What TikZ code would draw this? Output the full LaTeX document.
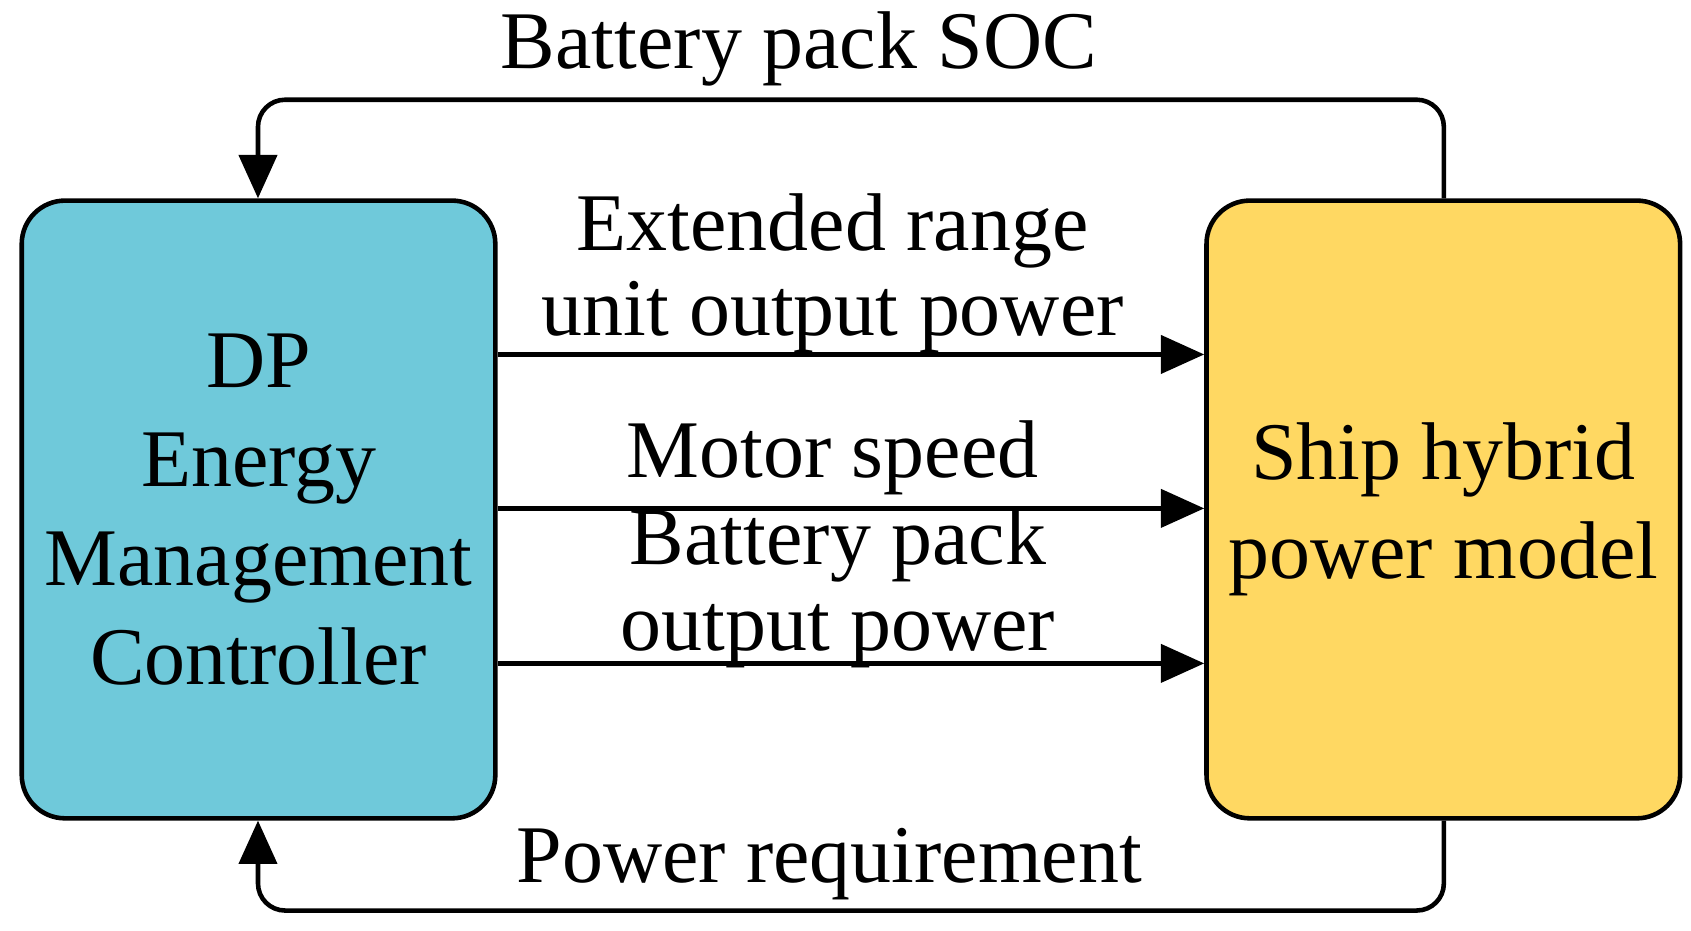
\documentclass[tikz,border=0pt]{standalone}
\usepackage{fontspec}
\setmainfont{Liberation Serif}
\usetikzlibrary{arrows.meta}
\definecolor{cbox}{HTML}{6FC9DA}
\definecolor{ybox}{HTML}{FFD862}
\begin{document}
\begin{tikzpicture}[x=0.02cm,y=-0.02cm,
  box/.style={draw,line width=2.4pt,rounded corners=0.8cm,minimum width=8.74cm,minimum height=11.4cm,align=center,font=\fontsize{43}{52}\selectfont},
  lbl/.style={align=center,font=\fontsize{43}{45}\selectfont,inner sep=0pt},
  con/.style={line width=2.4pt,-{Triangle[length=0.8cm,width=0.7cm]},rounded corners=0.5cm}]
\useasboundingbox (0,0) rectangle (1560,858);
\node[box,fill=cbox] (L) at (238.5,470) {DP\\Energy\\Management\\Controller};
\node[box,fill=ybox] (R) at (1331.5,470) {Ship hybrid\\power model};
\coordinate (t1) at (1332,92); \coordinate (t2) at (238,92);
\coordinate (b1) at (1332,840); \coordinate (b2) at (238,840);
\draw[con] (R.north -| t1) -- (t1) -- (t2) -- (L.north -| t2);
\draw[con] (R.south -| b1) -- (b1) -- (b2) -- (L.south -| b2);
\coordinate (a1) at (0,327); \coordinate (a2) at (0,469); \coordinate (a3) at (0,612);
\draw[con] (L.east |- a1) -- (R.west |- a1);
\draw[con] (L.east |- a2) -- (R.west |- a2);
\draw[con] (L.east |- a3) -- (R.west |- a3);
\node[lbl] (s1) at (737,45) {Battery pack SOC};
\node[lbl] (s2) at (768,252) {Extended range\\unit output power};
\node[lbl] (s3) at (768,422) {Motor speed};
\node[lbl] (s4) at (773,542) {Battery pack\\output power};
\node[lbl] (s5) at (765,797) {Power requirement};
\end{tikzpicture}
\end{document}
